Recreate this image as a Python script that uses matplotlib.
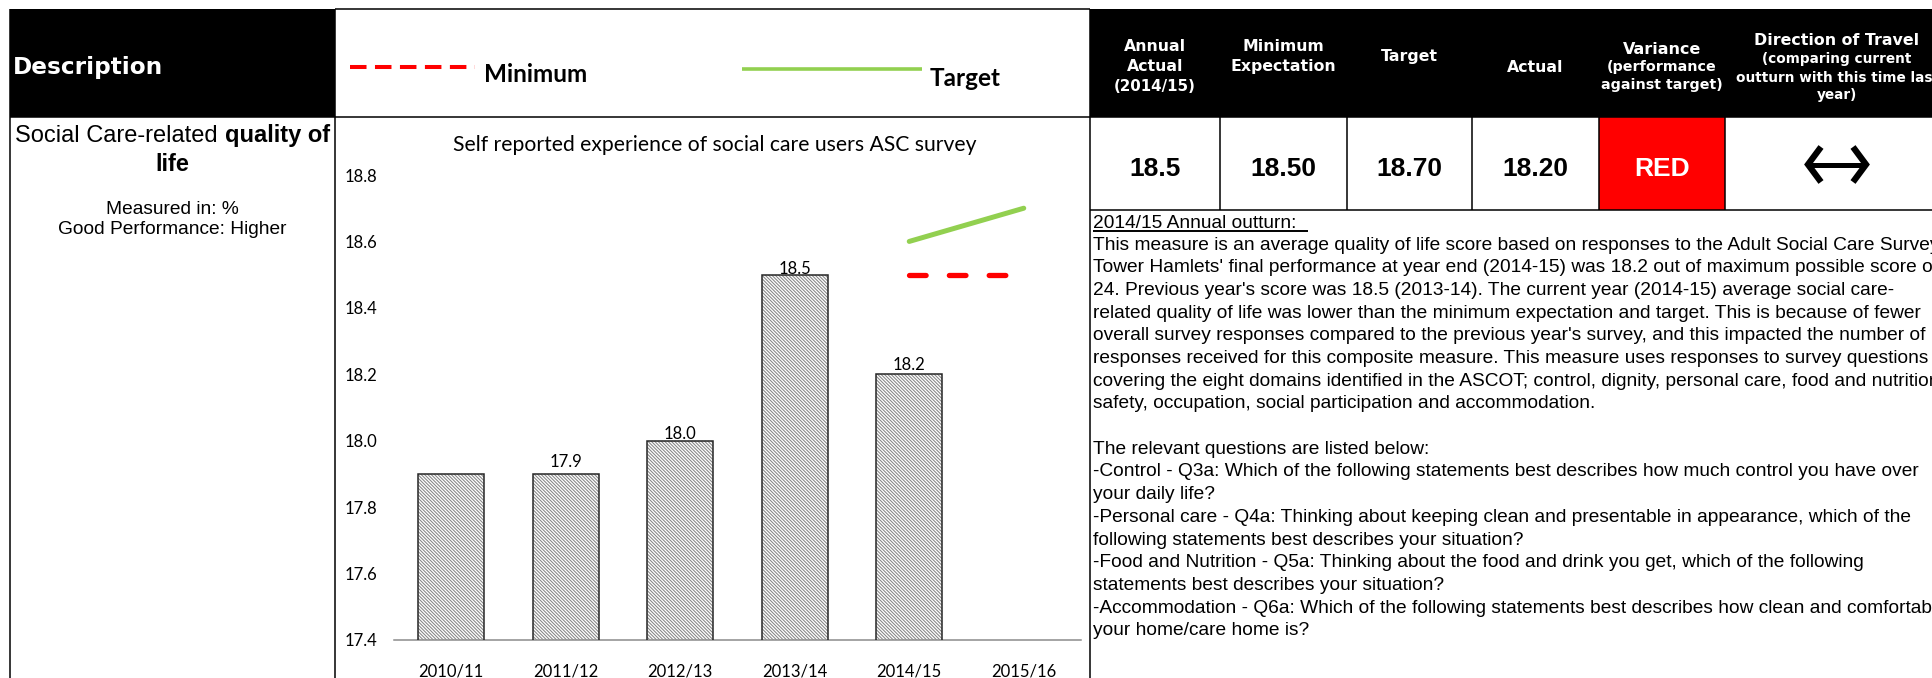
import matplotlib
matplotlib.use("Agg")
import matplotlib.pyplot as plt
from matplotlib.patches import Rectangle

# ---------------- data ----------------
years = ["2010/11", "2011/12", "2012/13", "2013/14", "2014/15", "2015/16"]
actual_values = [17.9, 17.9, 18.0, 18.5, 18.2]
actual_labels = ["", "17.9", "18.0", "18.5", "18.2"]
target_years = ["2014/15", "2015/16"]
target_values = [18.6, 18.7]
minimum_years = ["2014/15", "2015/16"]
minimum_values = [18.5, 18.5]
y_ticks = [17.4, 17.6, 17.8, 18.0, 18.2, 18.4, 18.6, 18.8]

chart_title = "Self reported experience of social care users ASC survey"
kpi_values = ["18.5", "18.50", "18.70", "18.20", "RED"]

description_lines = [
    "This measure is an average quality of life score based on responses to the Adult Social Care Survey.",
    "Tower Hamlets' final performance at year end (2014-15) was 18.2 out of maximum possible score of",
    "24. Previous year's score was 18.5 (2013-14). The current year (2014-15) average social care-",
    "related quality of life was lower than the minimum expectation and target. This is because of fewer",
    "overall survey responses compared to the previous year's survey, and this impacted the number of",
    "responses received for this composite measure. This measure uses responses to survey questions",
    "covering the eight domains identified in the ASCOT; control, dignity, personal care, food and nutrition,",
    "safety, occupation, social participation and accommodation.",
    "",
    "The relevant questions are listed below:",
    "-Control - Q3a: Which of the following statements best describes how much control you have over",
    "your daily life?",
    "-Personal care - Q4a: Thinking about keeping clean and presentable in appearance, which of the",
    "following statements best describes your situation?",
    "-Food and Nutrition - Q5a: Thinking about the food and drink you get, which of the following",
    "statements best describes your situation?",
    "-Accommodation - Q6a: Which of the following statements best describes how clean and comfortable",
    "your home/care home is?",
]

# ---------------- figure ----------------
W, H = 1932, 678
fig = plt.figure(figsize=(W / 100, H / 100), dpi=100)
bg = fig.add_axes([0, 0, 1, 1])
bg.set_xlim(0, W)
bg.set_ylim(H, 0)
bg.set_autoscale_on(False)
bg.axis("off")


def px_ax(l, t, r, b):
    return [l / W, 1 - b / H, (r - l) / W, (b - t) / H]


LW = 1.1


def hline(y, x0, x1, lw=LW, color="black"):
    bg.plot([x0, x1], [y, y], color=color, lw=lw, solid_capstyle="butt")


def vline(x, y0, y1, lw=LW, color="black"):
    bg.plot([x, x], [y0, y1], color=color, lw=lw, solid_capstyle="butt")


# black header blocks and red status cell
bg.add_patch(Rectangle((10, 9), 325, 108, facecolor="black", edgecolor="none"))
bg.add_patch(Rectangle((1090, 9), W - 1090 + 5, 108, facecolor="black", edgecolor="none"))
bg.add_patch(Rectangle((1599, 117), 126, 93, facecolor="#ff0000", edgecolor="none"))

# grid lines of the table
hline(9, 335, 1090)
hline(117, 10, W + 5)
hline(210, 1090, W + 5)
vline(10, 9, H + 5)
vline(335, 9, H + 5)
vline(1090, 9, H + 5)
for xb in [1220, 1347, 1472, 1599, 1725]:
    vline(xb, 117, 210)

# ---------------- left column ----------------
bg.text(13, 65, "Description", color="white", fontsize=16.7, fontweight="bold",
        family="DejaVu Sans", ha="left", va="center_baseline")

renderer = fig.canvas.get_renderer()
t1 = bg.text(0, 133, "Social Care-related", fontsize=17, family="Liberation Sans",
             ha="left", va="center_baseline")
t2 = bg.text(0, 133, "quality of", fontsize=17, family="Liberation Sans", fontweight="bold",
             ha="left", va="center_baseline")
w1 = t1.get_window_extent(renderer).width
w2 = t2.get_window_extent(renderer).width
sp_a = bg.text(0, 0, "a a", fontsize=17, family="Liberation Sans")
sp_b = bg.text(0, 0, "aa", fontsize=17, family="Liberation Sans")
space = sp_a.get_window_extent(renderer).width - sp_b.get_window_extent(renderer).width
sp_a.remove()
sp_b.remove()
cx = 172.5
x0 = cx - (w1 + space + w2) / 2
t1.set_x(x0)
t2.set_x(x0 + w1 + space)
bg.text(cx, 162, "life", fontsize=17, family="Liberation Sans", fontweight="bold",
        ha="center", va="center_baseline")
bg.text(cx, 207, "Measured in: %", fontsize=13.8, family="Liberation Sans",
        ha="center", va="center_baseline")
bg.text(cx, 227, "Good Performance: Higher", fontsize=13.8, family="Liberation Sans",
        ha="center", va="center_baseline")

# ---------------- legend header ----------------
bg.plot([350, 475], [66.5, 66.5], color="#ff0000", lw=2.9, dashes=(4.1, 2.1),
        dash_capstyle="butt")
bg.text(484, 72, "Minimum", fontsize=17.5, family="Lato", fontweight="bold",
        ha="left", va="center_baseline")
bg.plot([742, 922], [68.6, 68.6], color="#92D050", lw=2.6, solid_capstyle="butt")
bg.text(930, 76.5, "Target", fontsize=17.5, family="Lato", fontweight="bold",
        ha="left", va="center_baseline")

# ---------------- KPI header ----------------
hdr = dict(color="white", family="DejaVu Sans", fontweight="bold", ha="center",
           va="center_baseline")
header_cells = [
    (1155, [("Annual", 11.3, 45), ("Actual", 11.3, 65), ("(2014/15)", 10.8, 85)]),
    (1283.5, [("Minimum", 11.3, 45), ("Expectation", 11.3, 65)]),
    (1409.5, [("Target", 11.3, 55)]),
    (1535.5, [("Actual", 11.3, 66)]),
    (1662, [("Variance", 11.5, 48), ("(performance", 10.3, 66), ("against target)", 10.3, 84)]),
    (1837, [("Direction of Travel", 11.4, 39), ("(comparing current", 9.8, 58),
            ("outturn with this time last", 9.8, 76), ("year)", 9.8, 94)]),
]
for hx, lines in header_cells:
    for txt, fs, hy in lines:
        bg.text(hx, hy, txt, fontsize=fs, **hdr)

value_centers = [1155, 1283.5, 1409.5, 1535.5, 1662]
for vx, val in zip(value_centers, kpi_values):
    bg.text(vx, 166, val, fontsize=19, family="Liberation Sans", fontweight="bold",
            ha="center", va="center_baseline",
            color="white" if val == "RED" else "black")

# direction-of-travel arrow (no change)
bg.plot([1821, 1808, 1821], [147, 164.5, 182], color="black", lw=4.5,
        solid_joinstyle="miter", solid_capstyle="butt")
bg.plot([1853, 1866, 1853], [147, 164.5, 182], color="black", lw=4.5,
        solid_joinstyle="miter", solid_capstyle="butt")
bg.plot([1811, 1863], [164.5, 164.5], color="black", lw=3.6, solid_capstyle="butt")

# ---------------- commentary ----------------
bg.text(1093, 222, "2014/15 Annual outturn:", fontsize=13.8, family="Liberation Sans",
        ha="left", va="center_baseline")
hline(231, 1093, 1308, lw=1.4)
for i, line in enumerate(description_lines):
    if line:
        bg.text(1093, 243 + i * 22.7, line, fontsize=13.8, family="Liberation Sans",
                ha="left", va="center_baseline")

# ---------------- chart ----------------
bg.text(714.5, 143, chart_title, fontsize=15.2, family="Lato", ha="center",
        va="center_baseline")

plt.rcParams["hatch.linewidth"] = 0.75
ax = fig.add_axes(px_ax(394, 175, 1081, 640))
ax.set_facecolor("none")
xpos = list(range(len(actual_values)))
ax.bar(xpos, actual_values, width=0.58, color="white", edgecolor="#858585",
       hatch="\\" * 10, linewidth=0, zorder=2)
ax.bar(xpos, actual_values, width=0.58, fill=False, edgecolor="#262626",
       linewidth=1.1, zorder=3)

label_offsets = [0, 13, 8, 7.5, 11]
for i, (v, lab, off) in enumerate(zip(actual_values, actual_labels, label_offsets)):
    if lab:
        ax.annotate(lab, (i, v), xytext=(0, off), textcoords="offset pixels",
                    ha="center", va="center_baseline", fontsize=12, family="Lato",
                    zorder=5)

tx = [years.index(y) for y in target_years]
ax.plot(tx, target_values, color="#92D050", lw=3.6, solid_capstyle="round", zorder=4)
mx = [years.index(y) for y in minimum_years]
ax.plot(mx, minimum_values, color="#ff0000", lw=3.8, dashes=(3.15, 4.4),
        dash_capstyle="round", zorder=4)

ax.set_xlim(-0.5, len(years) - 0.5)
ax.set_ylim(y_ticks[0], y_ticks[-1])
ax.set_xticks(range(len(years)), years)
ax.set_yticks(y_ticks, [f"{v:.1f}" for v in y_ticks])
for lab in ax.get_xticklabels() + ax.get_yticklabels():
    lab.set_family("Lato")
    lab.set_fontsize(12)
ax.tick_params(axis="x", length=0, pad=17)
ax.tick_params(axis="y", length=0, pad=12.2)
for s in ["top", "right", "left"]:
    ax.spines[s].set_visible(False)
ax.spines["bottom"].set_color("#8c8c8c")
ax.spines["bottom"].set_linewidth(1.1)

fig.savefig("out.png", dpi=100, facecolor="white")
